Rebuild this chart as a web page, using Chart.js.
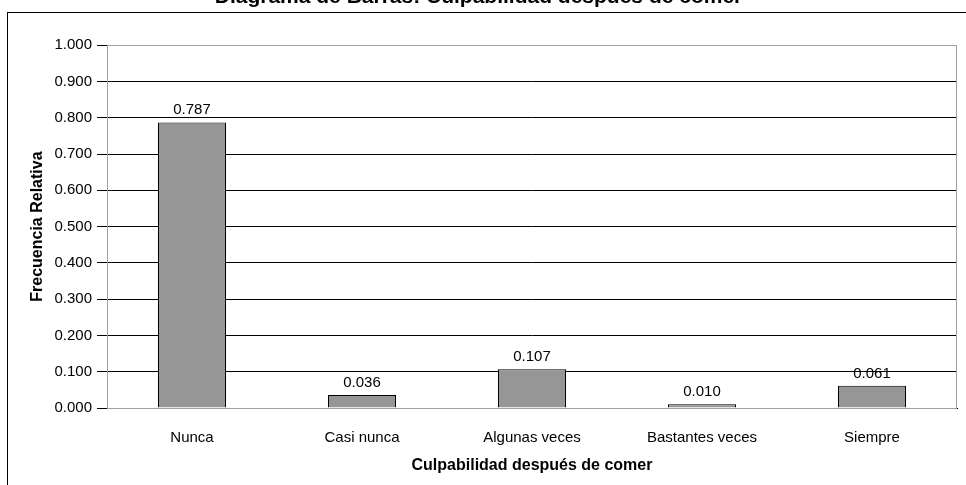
<!DOCTYPE html>
<html>
<head>
<meta charset="utf-8">
<script src="https://cdn.jsdelivr.net/npm/chart.js@4/dist/chart.umd.min.js"></script>
<style>
  html, body { margin: 0; padding: 0; background: #fff; overflow: hidden; }
  body { width: 966px; height: 485px; position: relative; }
  .frame { position: absolute; left: 7px; top: 12px; width: 1000px; height: 1000px; border: 1px solid #000; }
  .wrap { position: absolute; left: 0; top: -20px; width: 966px; height: 505px; }
</style>
</head>
<body>
<div class="frame"></div>
<div class="wrap"><canvas id="chart"></canvas></div>
<script>
const categories = ['Nunca', 'Casi nunca', 'Algunas veces', 'Bastantes veces', 'Siempre'];
const relFreq = [0.787, 0.036, 0.107, 0.010, 0.061];
const yTicks = [0, 0.1, 0.2, 0.3, 0.4, 0.5, 0.6, 0.7, 0.8, 0.9, 1.0];

const FONT = '"Liberation Sans", Arial, sans-serif';
Chart.defaults.font.family = FONT;
Chart.defaults.color = '#000';

// value labels above each bar
const barLabels = {
  id: 'barLabels',
  afterDatasetsDraw(chart) {
    const { ctx } = chart;
    const meta = chart.getDatasetMeta(0);
    ctx.save();
    ctx.font = '15px ' + FONT;
    ctx.fillStyle = '#000';
    ctx.textAlign = 'center';
    ctx.textBaseline = 'alphabetic';
    meta.data.forEach((bar, i) => {
      ctx.fillText(relFreq[i].toFixed(3), bar.x, bar.y - 8);
    });
    ctx.restore();
  },
};

// grey border around the plot area
const plotBorder = {
  id: 'plotBorder',
  beforeDatasetsDraw(chart) {
    const { ctx, chartArea: a } = chart;
    ctx.save();
    ctx.strokeStyle = '#a0a0a0';
    ctx.lineWidth = 1;
    ctx.strokeRect(Math.round(a.left) + 0.5, Math.round(a.top) + 0.5,
      Math.round(a.right - a.left) - 1, Math.round(a.bottom - a.top));
    ctx.restore();
  },
};

new Chart(document.getElementById('chart'), {
  type: 'bar',
  data: {
    labels: categories,
    datasets: [{
      data: relFreq,
      backgroundColor: '#969696',
      borderColor: '#000',
      borderWidth: 1,
      categoryPercentage: 1,
      barPercentage: 0.4,
    }],
  },
  options: {
    responsive: true,
    maintainAspectRatio: false,
    animation: false,
    layout: { padding: { left: 0, right: 9, top: 0, bottom: 0 } },
    plugins: {
      legend: { display: false },
      tooltip: { enabled: false },
      title: {
        display: true,
        text: 'Diagrama de Barras: Culpabilidad después de comer',
        color: '#000',
        font: { size: 21, weight: 'bold' },
        padding: { top: 5, bottom: 35 },
      },
    },
    scales: {
      x: {
        grid: { display: false },
        border: { display: true, color: '#000', width: 1 },
        ticks: { color: '#000', font: { size: 15 }, padding: 13 },
        title: {
          display: true,
          text: 'Culpabilidad después de comer',
          color: '#000',
          font: { size: 16, weight: 'bold' },
          padding: { top: 0, bottom: 10 },
        },
        afterFit(scale) { scale.height = 77; },
      },
      y: {
        min: 0,
        max: 1,
        afterBuildTicks(scale) { scale.ticks = yTicks.map(v => ({ value: v })); },
        grid: {
          color: ctx => (ctx.tick && ctx.tick.value === 1 ? '#a0a0a0' : '#000'),
          tickColor: '#000',
          tickLength: 10,
          lineWidth: 1,
        },
        border: { display: true, color: '#333', width: 1 },
        ticks: {
          color: '#000',
          font: { size: 15 },
          padding: 5,
          callback: v => Number(v).toFixed(3),
        },
        title: {
          display: true,
          text: 'Frecuencia Relativa',
          color: '#000',
          font: { size: 16, weight: 'bold' },
          padding: { top: 28, bottom: 0 },
        },
        afterFit(scale) { scale.width = 107; },
      },
    },
  },
  plugins: [plotBorder, barLabels],
});
</script>
</body>
</html>
